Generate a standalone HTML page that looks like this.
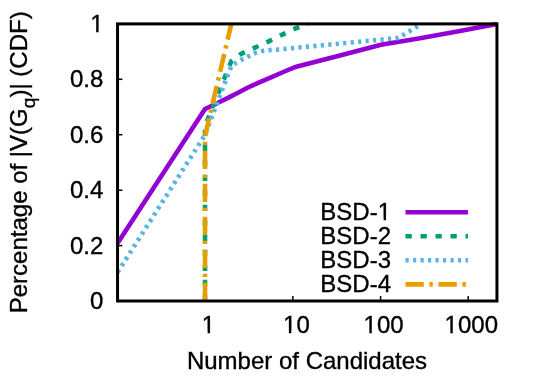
<!DOCTYPE html>
<html>
<head>
<meta charset="utf-8">
<title>CDF of Number of Candidates</title>
<style>
  html, body { margin: 0; padding: 0; background: #ffffff; }
  body { width: 540px; height: 378px; overflow: hidden; }
  svg { display: block; will-change: transform; }
  text { font-family: "Liberation Sans", sans-serif; font-size: 24px; fill: #000000; stroke: #000000; stroke-width: 0.35px; }
</style>
</head>
<body>
<svg width="540" height="378" viewBox="0 0 540 378">
  <rect x="0" y="0" width="540" height="378" fill="#ffffff"/>

  <!-- tick marks -->
  <g stroke="#000000" stroke-width="1.5" fill="none">
    <line x1="117.5" y1="245.6" x2="122.4" y2="245.6"/>
    <line x1="117.5" y1="190.2" x2="122.4" y2="190.2"/>
    <line x1="117.5" y1="134.7" x2="122.4" y2="134.7"/>
    <line x1="117.5" y1="79.3" x2="122.4" y2="79.3"/>
    <line x1="205.1" y1="301" x2="205.1" y2="296"/>
    <line x1="292.85" y1="301" x2="292.85" y2="296"/>
    <line x1="380.6" y1="301" x2="380.6" y2="296"/>
    <line x1="468.2" y1="301" x2="468.2" y2="296"/>
  </g>

  <!-- data curves -->
  <g fill="none" stroke-width="4.6" stroke-linejoin="round">
    <!-- BSD-1 -->
    <polyline stroke="#9400D3" points="117.55,243.3 205.0,109 216.5,103.5 228,97.9 238,92.7 248,87.5 261.1,81.6 272.2,76.8 283.3,72.0 294.4,67.4 296.3,66.7 338,56.1 381,44.8 420,38.2 460,31.1 496.95,23.9"/>
    <!-- BSD-2 -->
    <polyline stroke="#009E73" stroke-dasharray="6.25 8.75" points="205.0,301 205.0,126 231.3,61.2 241.1,53.9 255,47.6 268.7,41.4 280,35.6 295.4,28.5 308,23.9"/>
    <!-- BSD-3 -->
    <polyline stroke="#56B4E9" stroke-dasharray="3.2 4.3" points="117.55,272.3 205.0,135 231.3,66 235.8,63 242.2,59.4 248.9,56.1 255.6,52.8 262.8,50.9 270.2,50 277.4,49.6 397,38.1 398.5,37.9 421.5,23.9"/>
    <!-- BSD-4 -->
    <polyline stroke="#E69F00" stroke-dasharray="18.3 5.6 3.4 5.7" points="205.0,301 205.0,136 231.3,23.9"/>
  </g>

  <!-- frame -->
  <rect x="117.55" y="23.9" width="379.4" height="277.1" fill="none" stroke="#000000" stroke-width="3"/>

  <!-- y tick labels -->
  <g text-anchor="end">
    <text x="103.7" y="32">1</text>
    <text x="103.4" y="87.3">0.8</text>
    <text x="103.4" y="142.8">0.6</text>
    <text x="103.4" y="198.1">0.4</text>
    <text x="103.4" y="253.5">0.2</text>
    <text x="103.4" y="308.7">0</text>
  </g>

  <!-- x tick labels -->
  <g text-anchor="middle">
    <text x="208.5" y="333">1</text>
    <text x="296.4" y="333">10</text>
    <text x="383.6" y="333">100</text>
    <text x="471.3" y="333">1000</text>
  </g>

  <!-- axis labels -->
  <text x="307" y="369" text-anchor="middle">Number of Candidates</text>
  <text transform="translate(27.4,162.3) rotate(-90)" text-anchor="middle">Percentage of |V(G<tspan font-size="19.2px" dy="7.2">q</tspan><tspan dy="-7.2">)| (CDF)</tspan></text>

  <!-- legend -->
  <g text-anchor="end">
    <text x="391" y="219.8">BSD-1</text>
    <text x="391" y="243.7">BSD-2</text>
    <text x="391" y="267.6">BSD-3</text>
    <text x="391" y="291.5">BSD-4</text>
  </g>
  <!-- trim the base of the digit 1 so it matches a plain-stem numeral -->
  <g fill="#ffffff" stroke="none">
    <rect x="202.30" y="330.67" width="5.3" height="3.33"/>
    <rect x="210.06" y="330.67" width="5.3" height="3.33"/>
    <rect x="283.56" y="330.67" width="5.3" height="3.33"/>
    <rect x="291.34" y="330.67" width="5.3" height="3.33"/>
    <rect x="364.06" y="330.67" width="5.3" height="3.33"/>
    <rect x="371.81" y="330.67" width="5.3" height="3.33"/>
    <rect x="445.06" y="330.67" width="5.3" height="3.33"/>
    <rect x="452.81" y="330.67" width="5.3" height="3.33"/>
    <rect x="90.83" y="29.67" width="5.3" height="3.33"/>
    <rect x="98.58" y="29.67" width="5.3" height="3.33"/>
    <rect x="378.30" y="217.67" width="5.3" height="3.33"/>
    <rect x="386.06" y="217.67" width="5.3" height="3.33"/>
  </g>
  <g fill="none" stroke-width="4.6">
    <line x1="405.5" y1="212.3" x2="468" y2="212.3" stroke="#9400D3"/>
    <line x1="405.5" y1="236.2" x2="468" y2="236.2" stroke="#009E73" stroke-dasharray="6.25 8.75"/>
    <line x1="405.5" y1="260.3" x2="468" y2="260.3" stroke="#56B4E9" stroke-dasharray="3.2 4.3"/>
    <line x1="405.5" y1="284.4" x2="468" y2="284.4" stroke="#E69F00" stroke-dasharray="18.3 5.6 3.4 5.7"/>
  </g>
</svg>
</body>
</html>
